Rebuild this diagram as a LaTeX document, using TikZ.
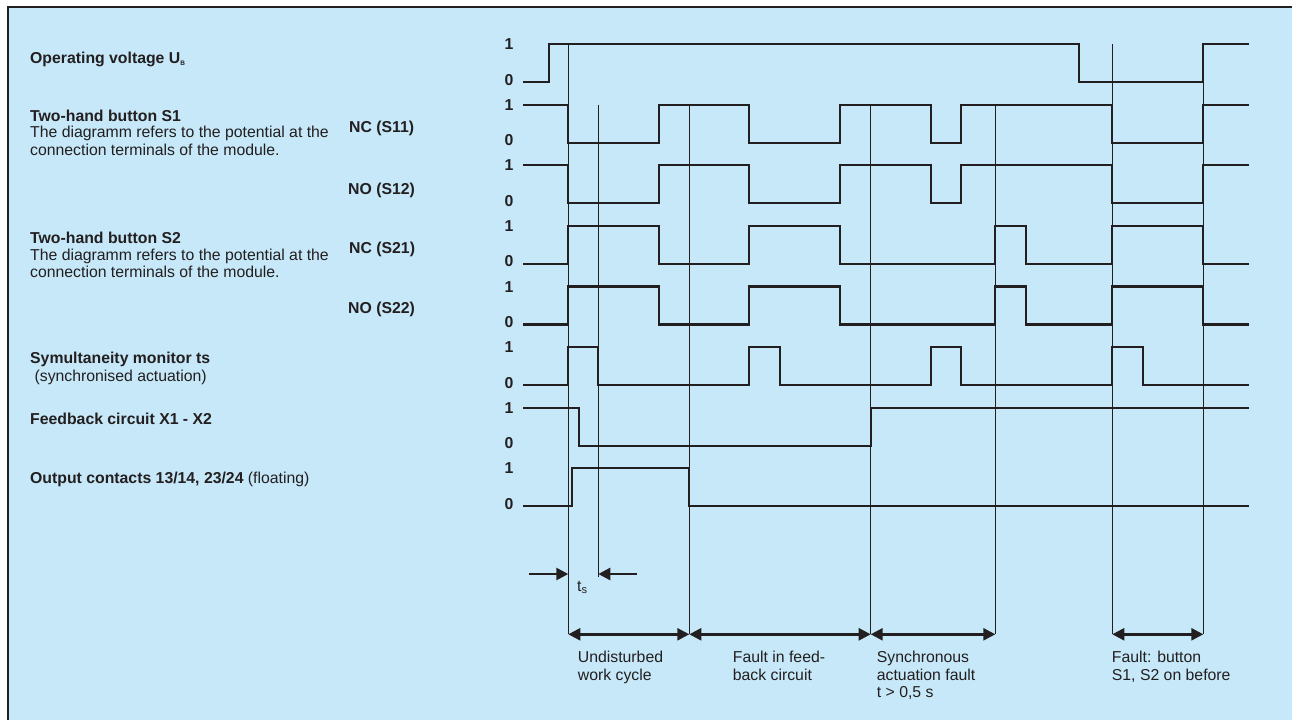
\documentclass[tikz,border=0pt]{standalone}
\usepackage{fontspec}
\setmainfont{Liberation Sans}
\usetikzlibrary{arrows.meta}
\definecolor{bg}{HTML}{C6E8F8}
\definecolor{ink}{HTML}{231F20}
\newcommand\tdfont{\fontsize{15.8}{18}\selectfont}
\begin{document}
\begin{tikzpicture}[x=1pt,y=-1pt,
  wave/.style={line width=2.2pt, draw=ink, line join=miter},
  guide/.style={line width=0.9pt, draw=ink},
  span/.style={line width=2.5pt, draw=ink, {Triangle[length=12pt,width=12pt]}-{Triangle[length=12pt,width=12pt]}},
  single/.style={line width=2.5pt, draw=ink, -{Triangle[length=12pt,width=12pt]}},
  bl/.style={font=\tdfont\bfseries, text=ink, inner sep=0pt, anchor=base west},
  rl/.style={font=\tdfont, text=ink, inner sep=0pt, anchor=base west},
  lvl/.style={font=\tdfont\bfseries, text=ink, inner sep=0pt, anchor=base}
]
\useasboundingbox (0,0) rectangle (1292,720);
\fill[white] (0,0) rectangle (1292,720);
\fill[bg] (8,7) rectangle (1292,720);
\draw[ink, line width=2.2pt] (8,720) -- (8,7) -- (1292,7);

% level labels
\foreach \h [count=\i] in {44,104.6,165.2,225.8,286.4,347,407.6,468.2}{
  \node[lvl] (one\i) at (509,\h+5.7) {1};
  \node[lvl] (zero\i) at (509,\h+41) {0};
}

% left labels
\node[bl] (lub) at (30,63) {Operating voltage U\textsubscript{\fontsize{6.5}{7}\selectfont B}};
\node[bl] (ls1a) at (30,121.7) {Two-hand button S1};
\node[rl] (ls1b) at (30,137.5) {The diagramm refers to the potential at the};
\node[rl] (ls1c) at (30,155) {connection terminals of the module.};
\node[bl] (lnc1) at (349,132.5) {NC (S11)};
\node[bl] (lno1) at (348,194) {NO (S12)};
\node[bl] (ls2a) at (30,243) {Two-hand button S2};
\node[rl] (ls2b) at (30,260) {The diagramm refers to the potential at the};
\node[rl] (ls2c) at (30,277.5) {connection terminals of the module.};
\node[bl] (lnc2) at (349,253.5) {NC (S21)};
\node[bl] (lno2) at (348,313.5) {NO (S22)};
\node[bl] (lts) at (30,363.5) {Symultaneity monitor ts};
\node[rl] (ltsb) at (30,381.5) {\ (synchronised actuation)};
\node[bl] (lfb) at (30,424.5) {Feedback circuit X1 - X2};
\node[bl] (lout) at (30,483.5) {Output contacts 13/14, 23/24 \mdseries(floating)};

% guide coordinates
\coordinate (v1t) at (568.3,44);   \coordinate (v1b) at (568.3,634.3);
\coordinate (v2t) at (598.3,104.6); \coordinate (v2b) at (598.3,577);
\coordinate (v3t) at (689.3,104.6); \coordinate (v3b) at (689.3,634.3);
\coordinate (v4t) at (870.7,104.6); \coordinate (v4b) at (870.7,634.3);
\coordinate (v5t) at (995.3,104.6); \coordinate (v5b) at (995.3,634.3);
\coordinate (v6t) at (1112.3,44);  \coordinate (v6b) at (1112.3,634.3);
\coordinate (v7t) at (1203.3,82);  \coordinate (v7b) at (1203.3,634.3);
\foreach \v in {1,...,7}{ \draw[guide] (v\v t) -- (v\v b); }

% waveforms
% r1
\draw[wave] (523,82) -| (549.3,44) -| (1078.7,82) -| (1203.3,44) -- (1249,44);
% r2, r3
\foreach \h in {104.6,165.2}{
  \draw[wave] (523,\h) -| (568.3,\h+38) -| (659,\h) -| (749.3,\h+38) -| (840.3,\h)
    -| (931,\h+38) -| (961.3,\h) -| (1112.3,\h+38) -| (1203.3,\h) -- (1249,\h);
}
% r4, r5
\foreach \h in {225.8,286.4}{
  \draw[wave] (523,\h+38) -| (568.3,\h) -| (659,\h+38) -| (749.3,\h) -| (840.3,\h+38)
    -| (995.3,\h) -| (1025.7,\h+38) -| (1112.3,\h) -| (1203.3,\h+38) -- (1249,\h+38);
}
% r6
\draw[wave] (523,385) -| (568.3,347) -| (598.3,385) -| (749.3,347) -| (780,385)
  -| (931,347) -| (961.3,385) -| (1112.3,347) -| (1143,385) -- (1249,385);
% r7
\draw[wave] (523,407.6) -| (579.3,445.6) -| (870.7,407.6) -- (1249,407.6);
% r8
\draw[wave] (523,506.2) -| (572,468.2) -| (689.3,506.2) -- (1249,506.2);

% ts arrows
\coordinate (tsl) at (529,574);
\coordinate (tsr) at (636.7,574);
\draw[single] (tsl) -- (v1t |- tsl);
\draw[single] (tsr) -- (v2t |- tsr);
\node[rl] (tslab) at (577,591.5) {t\textsubscript{s}};

% span arrows
\draw[span] (v1b) -- (v3b);
\draw[span] (v3b) -- (v4b);
\draw[span] (v4b) -- (v5b);
\draw[span] (v6b) -- (v7b);

% bottom texts
\node[rl] (c1a) at (577.7,662.7) {Undisturbed};
\node[rl] (c1b) at (577.7,680) {work cycle};
\node[rl] (c2a) at (732.7,662.7) {Fault in feed-};
\node[rl] (c2b) at (732.7,680) {back circuit};
\node[rl] (c3a) at (876.7,662.7) {Synchronous};
\node[rl] (c3b) at (876.7,680) {actuation fault};
\node[rl] (c3c) at (876.7,697.3) {t > 0,5 s};
\node[rl] (c4a) at (1111.7,662.7) {Fault: button};
\node[rl] (c4b) at (1111.7,680) {S1, S2 on before};
\end{tikzpicture}
\end{document}
